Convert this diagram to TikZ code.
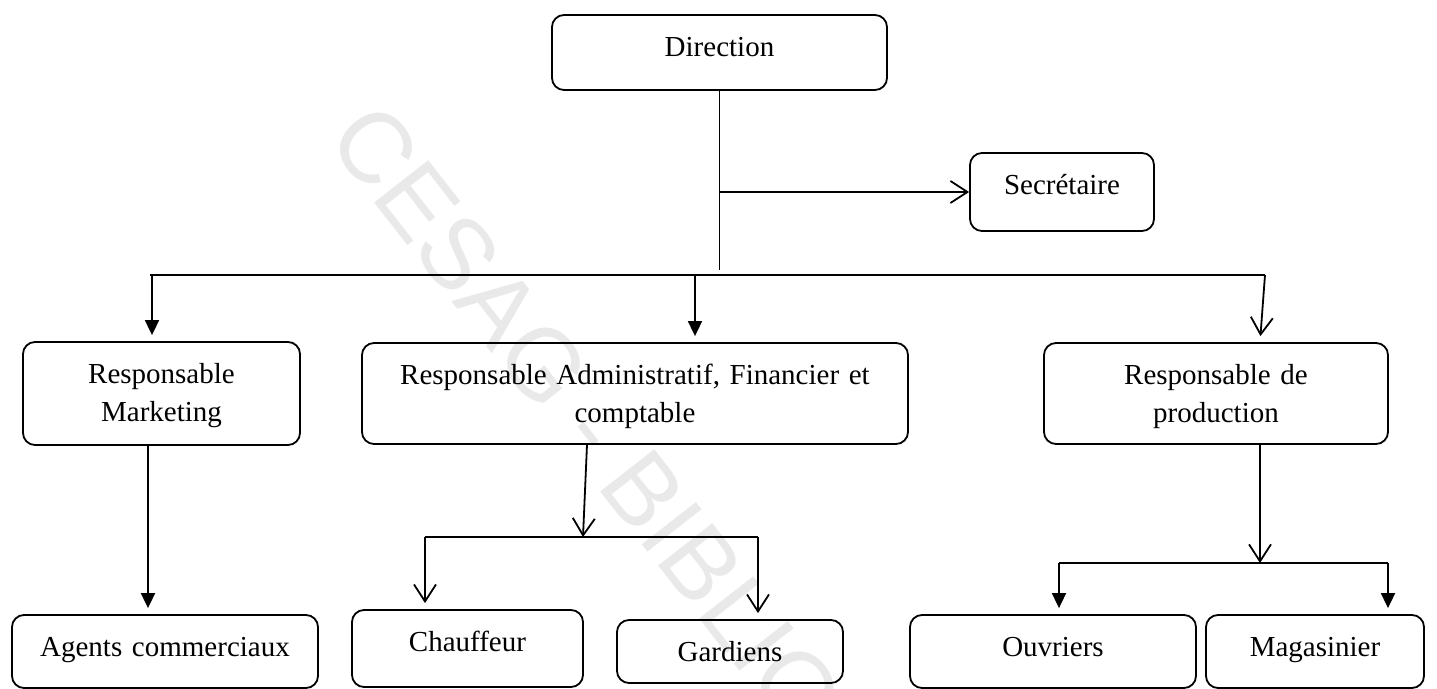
\documentclass[tikz,border=0pt]{standalone}
\usepackage{fontspec}
\setmainfont{Liberation Serif}
\newfontfamily\stampfont{Liberation Sans}
\usetikzlibrary{arrows.meta, calc}

\begin{document}
\begin{tikzpicture}[
    x=0.5pt, y=-0.5pt, % one unit = one pixel, y going down
    line width=0.9pt,
    font=\fontsize{14.5}{19}\selectfont,
    box/.style={draw, rounded corners=6pt, inner sep=0pt, align=center, text height=21pt}, % text sits high in the box
    filled/.style={-{Triangle[length=7.5pt, width=7pt]}, shorten >=3pt},
    barb/.style={-{Straight Barb[length=8.5pt, width=11pt]}, shorten >=3pt},
    stamp/.style={text=gray!17, font=\stampfont\fontsize{50}{50}\selectfont}
]

% Page size
\useasboundingbox (0, 0) rectangle (1437, 689);
\clip (0, 0) rectangle (1437, 689);

% Watermark
\node[stamp, rotate=-52] (wm) at (708, 588) {CESAG - BIBLIOTHEQUE};

% Top level
\node[box, text width=167.5pt, text depth=16.5pt] (dir) at (719.5, 52.5) {Direction};
\node[box, text width=92pt, text depth=18pt] (sec) at (1062, 192) {Secrétaire};

% Second level
\node[box, text width=138.5pt, text depth=30.5pt] (mkt) at (161.5, 393.5) {Responsable\\Marketing};
\node[box, text width=273pt, text depth=29.5pt] (raf) at (635, 393.5) {Responsable Administratif, Financier et\\comptable};
\node[box, text width=172pt, text depth=29.5pt] (prod) at (1216, 393.5) {Responsable de\\production};

% Third level
\node[box, text width=153pt, text depth=15.5pt] (agents) at (165, 651.5) {Agents commerciaux};
\node[box, text width=115.5pt, text depth=17.5pt] (chauf) at (467.5, 648.5) {Chauffeur};
\node[box, text width=113pt, text depth=10.5pt] (gard) at (730, 651.5) {Gardiens};
\node[box, text width=143pt, text depth=15.5pt] (ouv) at (1053, 651.5) {Ouvriers};
\node[box, text width=109pt, text depth=15.5pt] (mag) at (1315, 651.5) {Magasinier};

% Trunk from Direction
\coordinate (trunk) at (719.5, 270);
\draw (dir.south) -- (trunk);
\draw[barb, shorten >=0pt] (dir.south |- sec.west) -- (sec.west);

% Main bar
\coordinate (barL) at (150, 275);
\coordinate (barR) at (1265, 275);
\coordinate (m1) at (152, 275);
\coordinate (r1) at (695, 275);
\draw (barL) -- (barR);
\draw[filled] (m1) -- (m1 |- mkt.north);
\draw[filled] (r1) -- (r1 |- raf.north);
\draw[barb] (barR) -- ([xshift=22pt]prod.north);

% Marketing branch
\coordinate (mk) at ([xshift=-6.75pt]mkt.south);
\draw[filled] (mk) -- (mk |- agents.north);

% Administration branch
\coordinate (rf) at ([xshift=-24pt]raf.south);
\coordinate (fork1) at (583, 537);
\coordinate (fork1L) at (425, 537);
\coordinate (fork1R) at (758, 537);
\draw[barb, shorten >=0pt] (rf) -- (fork1);
\draw (fork1L) -- (fork1R);
\draw[barb] (fork1L) -- (fork1L |- chauf.north);
\draw[barb] (fork1R) -- (fork1R |- gard.north);

% Production branch
\coordinate (pd) at ([xshift=22pt]prod.south);
\coordinate (fork2) at (1260, 563);
\coordinate (fork2L) at (1059, 563);
\coordinate (fork2R) at (1388, 563);
\draw[barb, shorten >=0pt] (pd) -- (fork2);
\draw (fork2L) -- (fork2R);
\draw[filled] (fork2L) -- (fork2L |- ouv.north);
\draw[filled] (fork2R) -- (fork2R |- mag.north);

\end{tikzpicture}
\end{document}
